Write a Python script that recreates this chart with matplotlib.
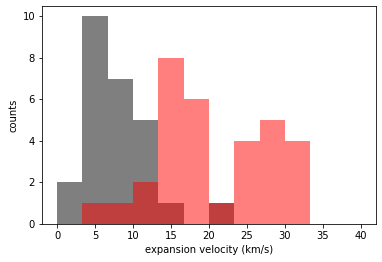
import numpy as np
import matplotlib
matplotlib.use("Agg")
import matplotlib.pyplot as plt

# bin edges (12 bins between 0 and 40 km/s)
edges = np.linspace(0, 40, 13)
centers = (edges[:-1] + edges[1:]) / 2

# counts per bin
counts_gray = [2, 10, 7, 5, 1, 0, 1, 0, 0, 0, 0, 0]
counts_red = [0, 1, 1, 2, 8, 6, 1, 4, 5, 4, 0, 0]

fig = plt.figure(figsize=(382/72, 262/72), dpi=72)
ax = fig.add_axes([0.110, 0.145, 0.874, 0.832])

ax.hist(centers, bins=edges, weights=counts_gray, color="k", alpha=0.5)
ax.hist(centers, bins=edges, weights=counts_red, color="r", alpha=0.5)

ax.set_xticks(np.arange(0, 41, 5))
ax.set_yticks(np.arange(0, 11, 2))
ax.set_xlabel("expansion velocity (km/s)", fontsize=10)
ax.set_ylabel("counts", fontsize=10)

fig.savefig("out.png", dpi=72)
